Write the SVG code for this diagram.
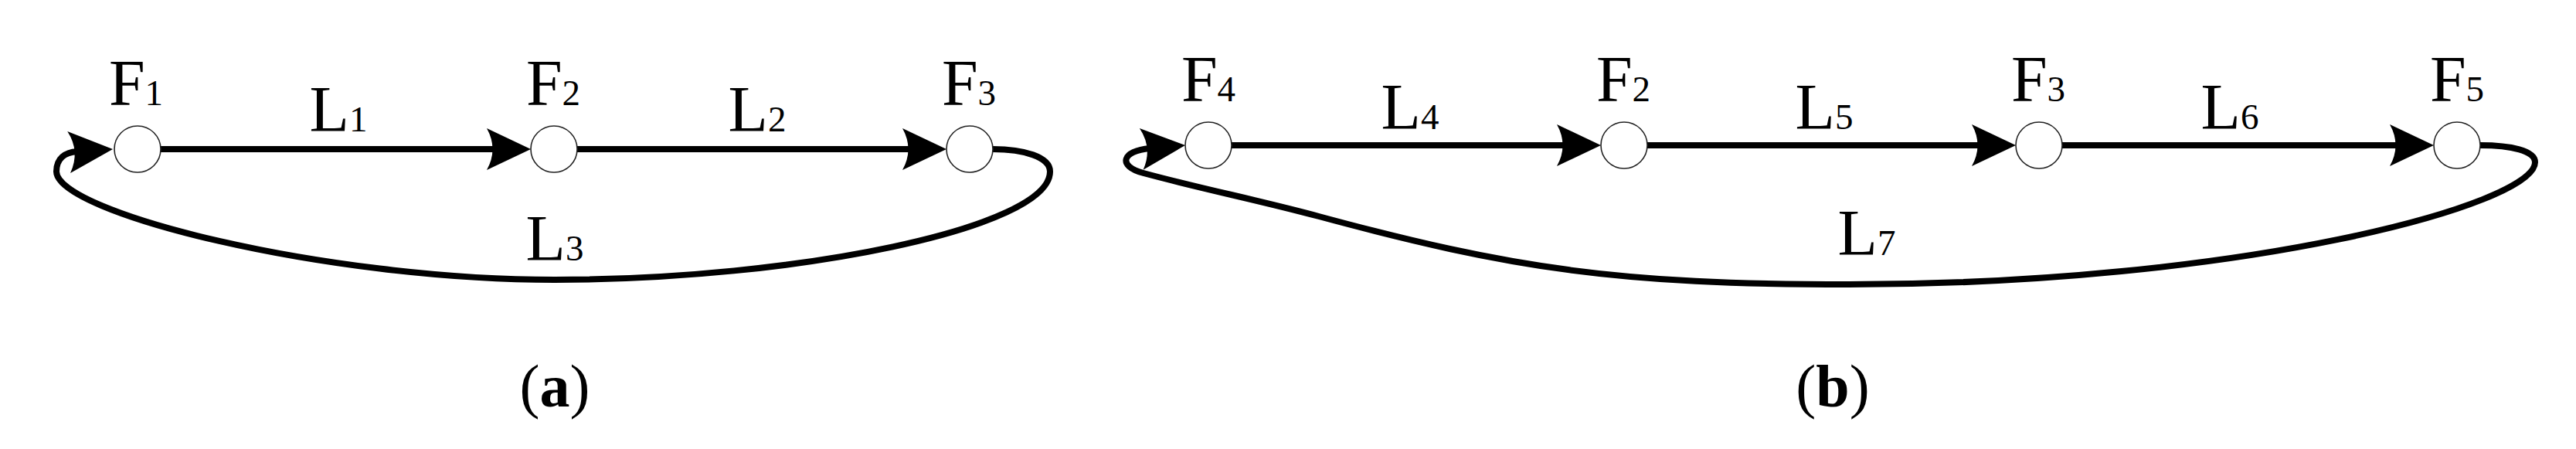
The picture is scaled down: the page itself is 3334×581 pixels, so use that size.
<svg xmlns="http://www.w3.org/2000/svg" xmlns:xlink="http://www.w3.org/1999/xlink" width="3334" height="581" viewBox="0 0 3334 581">
  <style>
    .edge { fill: none; stroke: #000; stroke-width: 8; }
    .node { fill: #fff; stroke: #222; stroke-width: 1.6; }
    .lbl { font-family: "Liberation Serif", "Times New Roman", serif; font-size: 84px; fill: #000; text-anchor: middle; }
    .sub { font-size: 47px; }
    .cap { font-family: "Liberation Serif", "Times New Roman", serif; font-size: 78px; fill: #000; text-anchor: middle; }
    .b { font-weight: bold; }
    .ah { fill: #000; stroke: none; }
  </style>
  <defs>
    <path id="ah" d="M0,0 L-57,-27 Q-42,0 -57,27 Z"/>
  </defs>
  <rect width="3334" height="581" fill="#fff"/>

  <g id="connectors">
    <!-- (a) -->
    <line class="edge" x1="208" y1="193" x2="645" y2="193"/>
    <line class="edge" x1="747" y1="193" x2="1183" y2="193"/>
    <path class="edge" d="M1285,193 C1325,193 1359,203 1359,222 C1359,295 1030,362 718,362 C420,362 73,275 73,222 C73,205 84,197 100,196"/>
    <use class="ah" xlink:href="#ah" href="#ah" transform="translate(687,193)"/>
    <use class="ah" xlink:href="#ah" href="#ah" transform="translate(1225,193)"/>
    <use class="ah" xlink:href="#ah" href="#ah" transform="translate(146,193) rotate(-4)"/>
    <!-- (b) -->
    <line class="edge" x1="1594" y1="188" x2="2030" y2="188"/>
    <line class="edge" x1="2132" y1="188" x2="2566" y2="188"/>
    <line class="edge" x1="2668" y1="188" x2="3108" y2="188"/>
    <path class="edge" d="M3210,188 C3250,188 3281,195 3281,210 C3281,265 2900,368 2393,368 C2093,368 1957,347.5 1707,280 C1627,258.4 1560,245.6 1480,224 C1445,214.5 1453,195 1488,192"/>
    <use class="ah" xlink:href="#ah" href="#ah" transform="translate(2072,188)"/>
    <use class="ah" xlink:href="#ah" href="#ah" transform="translate(2609,188)"/>
    <use class="ah" xlink:href="#ah" href="#ah" transform="translate(3150,188)"/>
    <use class="ah" xlink:href="#ah" href="#ah" transform="translate(1534,188) rotate(-5)"/>
  </g>

  <g id="edge-labels">
    <text class="lbl" x="438" y="170">L<tspan class="sub">1</tspan></text>
    <text class="lbl" x="980" y="170">L<tspan class="sub">2</tspan></text>
    <text class="lbl" x="718" y="337">L<tspan class="sub">3</tspan></text>
    <text class="lbl" x="1825" y="167">L<tspan class="sub">4</tspan></text>
    <text class="lbl" x="2361" y="167">L<tspan class="sub">5</tspan></text>
    <text class="lbl" x="2886" y="167">L<tspan class="sub">6</tspan></text>
    <text class="lbl" x="2416" y="330">L<tspan class="sub">7</tspan></text>
  </g>

  <g id="a-F1"><circle class="node" cx="178" cy="193" r="30"/><text class="lbl" x="176" y="136">F<tspan class="sub">1</tspan></text></g>
  <g id="a-F2"><circle class="node" cx="717" cy="193" r="30"/><text class="lbl" x="716" y="136">F<tspan class="sub">2</tspan></text></g>
  <g id="a-F3"><circle class="node" cx="1255" cy="193" r="30"/><text class="lbl" x="1254" y="136">F<tspan class="sub">3</tspan></text></g>

  <g id="b-F4"><circle class="node" cx="1564" cy="188" r="30"/><text class="lbl" x="1564" y="131">F<tspan class="sub">4</tspan></text></g>
  <g id="b-F2"><circle class="node" cx="2102" cy="188" r="30"/><text class="lbl" x="2101" y="131">F<tspan class="sub">2</tspan></text></g>
  <g id="b-F3"><circle class="node" cx="2639" cy="188" r="30"/><text class="lbl" x="2638" y="131">F<tspan class="sub">3</tspan></text></g>
  <g id="b-F5"><circle class="node" cx="3180" cy="188" r="30"/><text class="lbl" x="3180" y="131">F<tspan class="sub">5</tspan></text></g>

  <g id="captions">
    <text class="cap" x="718" y="526">(<tspan class="b">a</tspan>)</text>
    <text class="cap" x="2372" y="526">(<tspan class="b">b</tspan>)</text>
  </g>
</svg>
